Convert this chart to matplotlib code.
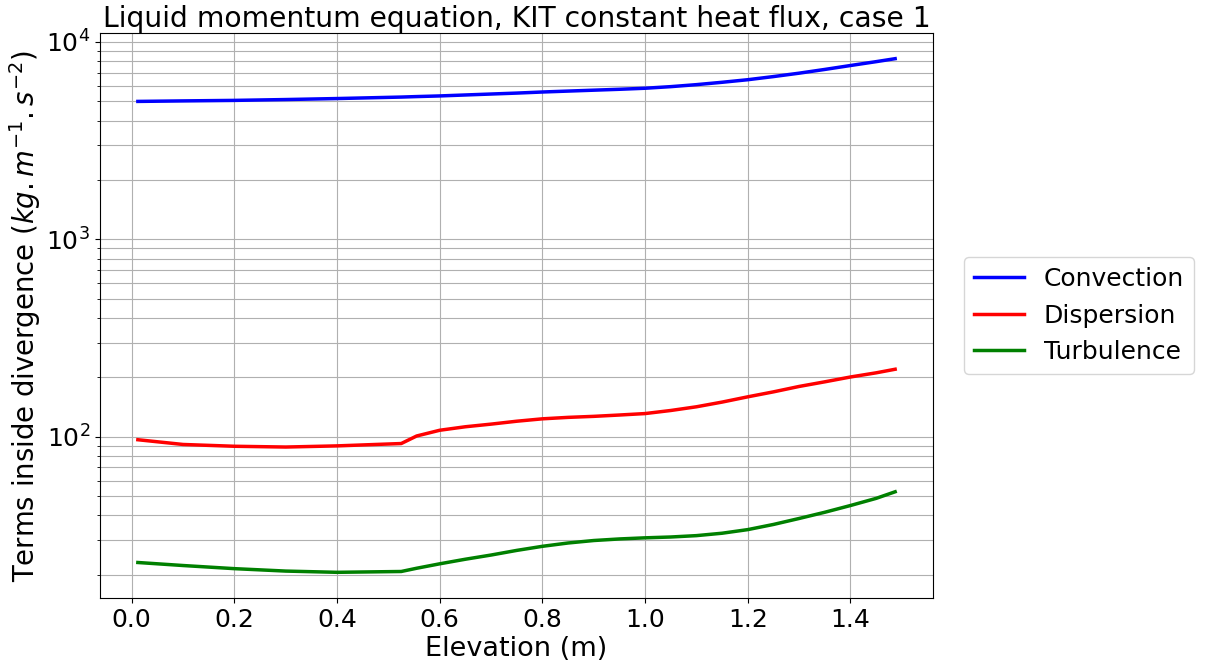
import matplotlib
matplotlib.use("Agg")
import matplotlib.pyplot as plt

elevation = [0.012, 0.1, 0.2, 0.3, 0.4, 0.525, 0.555, 0.6, 0.65, 0.7, 0.75, 0.8, 0.85, 0.9, 0.95, 1.0,
             1.05, 1.1, 1.15, 1.2, 1.25, 1.3, 1.35, 1.4, 1.45, 1.487]
convection = [5000, 5030, 5060, 5110, 5170, 5260, 5290, 5330, 5390, 5450, 5510, 5580, 5640, 5700, 5760, 5830,
              5940, 6080, 6250, 6440, 6680, 6950, 7260, 7600, 7950, 8230]
dispersion = [96.7, 91.5, 89.6, 88.8, 90.0, 92.5, 101, 108, 112.5, 116, 120, 123.4, 125.5, 127, 129, 131.2,
              136, 142, 150, 159.5, 169, 180, 190, 201, 211, 220]
turbulence = [23.1, 22.3, 21.5, 20.9, 20.6, 20.8, 21.6, 22.75, 24.0, 25.2, 26.6, 27.9, 29.0, 29.85, 30.4, 30.8,
              31.1, 31.6, 32.5, 33.9, 36.0, 38.6, 41.5, 44.9, 48.8, 52.7]
labels = ["Convection", "Dispersion", "Turbulence"]
colors = ["blue", "red", "green"]

fig = plt.figure(figsize=(12.1, 6.61), dpi=100)
ax = fig.add_axes([100/1210, 1-598/661, (933-100)/1210, (598-33)/661])
for vals, lab, c in zip([convection, dispersion, turbulence], labels, colors):
    ax.plot(elevation, vals, color=c, lw=2.5, label=lab)
ax.set_yscale("log")
ax.grid(True, which="both", color="#b0b0b0", lw=0.8)
ax.set_axisbelow(True)
ax.tick_params(labelsize=18)
ax.set_xlabel("Elevation (m)", fontsize=19.5, labelpad=3)
ax.set_ylabel(r"Terms inside divergence ($kg.m^{-1}.s^{-2}$)", fontsize=19.8, labelpad=2)
ax.set_title("Liquid momentum equation, KIT constant heat flux, case 1", fontsize=20.3, pad=4)
ax.legend(loc="center left", bbox_to_anchor=(1.022, 0.5), fontsize=18)
fig.savefig("out.png", dpi=100)
